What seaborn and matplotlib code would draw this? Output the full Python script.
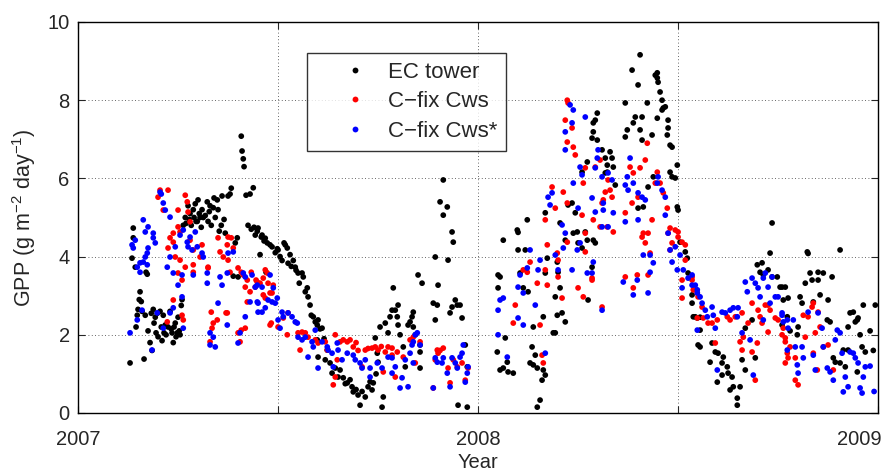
import matplotlib
matplotlib.use("Agg")
import matplotlib.pyplot as plt
import matplotlib.transforms as mtransforms
import seaborn as sns
import pandas as pd

# Daily GPP (g m-2 day-1), time given as decimal year
ec_tower = [
    (2007.130, 1.28), (2007.135, 3.96), (2007.138, 4.48), (2007.138, 4.73), (2007.143, 3.73),
    (2007.145, 2.20), (2007.148, 2.50), (2007.150, 2.65), (2007.153, 2.90), (2007.155, 3.10),
    (2007.158, 2.85), (2007.160, 2.60), (2007.165, 1.38), (2007.168, 2.50), (2007.170, 3.60),
    (2007.173, 3.55), (2007.175, 2.10), (2007.180, 1.80), (2007.183, 2.55), (2007.185, 1.60),
    (2007.188, 2.65), (2007.190, 2.30), (2007.193, 2.45), (2007.195, 2.05), (2007.198, 2.55),
    (2007.200, 1.95), (2007.205, 2.60), (2007.208, 2.20), (2007.210, 1.85), (2007.213, 2.50),
    (2007.215, 2.05), (2007.218, 2.25), (2007.220, 2.00), (2007.225, 2.20), (2007.230, 2.60),
    (2007.233, 2.15), (2007.235, 2.05), (2007.238, 1.80), (2007.240, 2.20), (2007.243, 2.30),
    (2007.245, 1.95), (2007.248, 2.05), (2007.250, 2.45), (2007.253, 2.10), (2007.255, 2.00),
    (2007.258, 2.75), (2007.260, 2.90), (2007.263, 4.80), (2007.268, 5.00), (2007.270, 4.85),
    (2007.275, 5.30), (2007.278, 4.95), (2007.280, 5.10), (2007.283, 4.80), (2007.288, 5.20),
    (2007.290, 5.00), (2007.293, 5.35), (2007.295, 4.90), (2007.298, 4.90), (2007.300, 5.45),
    (2007.303, 5.10), (2007.305, 5.00), (2007.308, 4.75), (2007.310, 5.20), (2007.313, 5.00),
    (2007.318, 5.05), (2007.323, 5.40), (2007.325, 4.90), (2007.328, 5.15), (2007.330, 5.30),
    (2007.333, 4.80), (2007.338, 5.25), (2007.340, 5.50), (2007.343, 5.00), (2007.348, 5.45),
    (2007.350, 5.20), (2007.353, 4.65), (2007.358, 4.80), (2007.360, 5.55), (2007.365, 4.95),
    (2007.368, 4.60), (2007.375, 5.55), (2007.380, 5.60), (2007.383, 5.75), (2007.388, 3.50),
    (2007.393, 4.35), (2007.398, 4.48), (2007.400, 3.48), (2007.408, 7.08), (2007.410, 6.70),
    (2007.413, 6.50), (2007.415, 6.30), (2007.420, 5.57), (2007.425, 4.80), (2007.430, 5.60),
    (2007.433, 4.70), (2007.438, 5.76), (2007.440, 4.75), (2007.443, 4.55), (2007.448, 4.65),
    (2007.450, 4.73), (2007.455, 4.05), (2007.458, 4.50), (2007.460, 4.55), (2007.465, 4.40),
    (2007.468, 4.47), (2007.470, 3.60), (2007.473, 4.35), (2007.480, 4.30), (2007.485, 4.25),
    (2007.493, 4.10), (2007.498, 4.20), (2007.500, 4.17), (2007.505, 4.00), (2007.510, 3.90),
    (2007.515, 4.35), (2007.518, 4.30), (2007.523, 4.22), (2007.525, 3.83), (2007.530, 4.05),
    (2007.533, 3.75), (2007.538, 3.90), (2007.543, 3.73), (2007.545, 3.65), (2007.550, 3.58),
    (2007.553, 3.32), (2007.560, 3.58), (2007.563, 3.48), (2007.568, 3.10), (2007.573, 3.20),
    (2007.575, 2.97), (2007.580, 2.76), (2007.583, 2.50), (2007.588, 2.46), (2007.593, 2.33),
    (2007.598, 2.25), (2007.598, 1.87), (2007.600, 2.38), (2007.600, 1.43), (2007.605, 2.15),
    (2007.610, 2.17), (2007.615, 1.90), (2007.618, 1.36), (2007.623, 1.61), (2007.630, 1.28),
    (2007.635, 1.02), (2007.643, 1.15), (2007.650, 0.92), (2007.655, 1.10), (2007.663, 0.90),
    (2007.668, 0.75), (2007.673, 0.77), (2007.680, 0.85), (2007.685, 0.67), (2007.688, 0.54),
    (2007.695, 0.60), (2007.700, 0.46), (2007.705, 0.20), (2007.710, 0.55), (2007.718, 0.41),
    (2007.725, 0.67), (2007.730, 0.80), (2007.735, 0.59), (2007.738, 0.77), (2007.743, 1.92),
    (2007.745, 1.00), (2007.748, 1.53), (2007.750, 1.30), (2007.755, 2.20), (2007.760, 0.15),
    (2007.763, 0.41), (2007.768, 2.30), (2007.775, 2.05), (2007.780, 2.46), (2007.785, 2.63),
    (2007.788, 3.20), (2007.793, 2.63), (2007.798, 2.46), (2007.800, 2.76), (2007.800, 2.25),
    (2007.805, 2.00), (2007.813, 1.69), (2007.818, 1.18), (2007.825, 2.25), (2007.830, 2.33),
    (2007.835, 2.46), (2007.838, 2.58), (2007.838, 2.20), (2007.843, 2.00), (2007.850, 3.53),
    (2007.855, 1.74), (2007.855, 1.56), (2007.855, 1.15), (2007.860, 3.32), (2007.888, 2.81),
    (2007.893, 2.38), (2007.893, 3.99), (2007.898, 2.76), (2007.900, 3.27), (2007.905, 5.40),
    (2007.913, 5.96), (2007.913, 5.06), (2007.923, 5.27), (2007.925, 3.91), (2007.930, 2.56),
    (2007.935, 4.63), (2007.935, 2.71), (2007.938, 4.37), (2007.943, 2.89), (2007.948, 2.76),
    (2007.950, 0.20), (2007.955, 2.76), (2007.960, 2.43), (2007.968, 1.74), (2007.973, 1.18),
    (2007.973, 0.15),
    (2008.048, 1.56), (2008.050, 3.53), (2008.050, 3.20), (2008.055, 3.48), (2008.055, 1.10),
    (2008.063, 4.42), (2008.063, 1.15), (2008.068, 1.92), (2008.073, 1.30), (2008.075, 1.05),
    (2008.088, 1.02), (2008.098, 4.68), (2008.100, 4.62), (2008.100, 4.17), (2008.105, 3.58),
    (2008.113, 3.20), (2008.118, 4.17), (2008.123, 4.94), (2008.125, 3.10), (2008.130, 1.28),
    (2008.135, 1.69), (2008.138, 2.20), (2008.138, 1.23), (2008.143, 1.48), (2008.148, 1.15),
    (2008.148, 0.15), (2008.155, 0.33), (2008.160, 0.84), (2008.163, 1.10), (2008.163, 2.46),
    (2008.168, 0.97), (2008.168, 3.58), (2008.168, 5.12), (2008.173, 3.96), (2008.188, 2.05),
    (2008.193, 2.05), (2008.193, 2.97), (2008.198, 2.50), (2008.198, 3.86), (2008.200, 3.60),
    (2008.205, 3.20), (2008.205, 4.86), (2008.210, 2.56), (2008.218, 2.33), (2008.218, 4.42),
    (2008.225, 5.32), (2008.235, 5.37), (2008.238, 4.60), (2008.243, 5.12), (2008.248, 4.63),
    (2008.250, 4.35), (2008.260, 4.22), (2008.260, 6.16), (2008.268, 4.63), (2008.273, 4.42),
    (2008.273, 6.42), (2008.275, 2.89), (2008.285, 3.73), (2008.285, 7.03), (2008.288, 7.19),
    (2008.288, 7.42), (2008.288, 4.42), (2008.293, 7.49), (2008.293, 4.35), (2008.298, 7.67),
    (2008.298, 6.98), (2008.310, 6.73), (2008.318, 6.52), (2008.318, 6.14), (2008.323, 6.34),
    (2008.323, 6.16), (2008.330, 6.68), (2008.335, 6.52), (2008.338, 6.29), (2008.343, 5.83),
    (2008.368, 7.93), (2008.373, 7.24), (2008.368, 7.06), (2008.385, 8.77), (2008.388, 7.42),
    (2008.393, 7.57), (2008.400, 8.39), (2008.400, 5.24), (2008.405, 9.16), (2008.405, 7.24),
    (2008.410, 7.57), (2008.410, 6.98), (2008.413, 5.27), (2008.423, 7.93), (2008.425, 5.78),
    (2008.435, 7.11), (2008.438, 6.04), (2008.443, 8.64), (2008.448, 8.57), (2008.448, 8.70),
    (2008.450, 8.46), (2008.448, 7.54), (2008.455, 8.21), (2008.460, 8.00), (2008.460, 7.75),
    (2008.463, 7.80), (2008.468, 7.83), (2008.473, 7.11), (2008.475, 7.49), (2008.475, 7.29),
    (2008.480, 6.85), (2008.480, 6.16), (2008.485, 6.80), (2008.485, 6.04), (2008.493, 6.01),
    (2008.498, 6.34), (2008.498, 5.27), (2008.500, 5.19), (2008.505, 4.37), (2008.518, 4.12),
    (2008.523, 3.96), (2008.525, 3.58), (2008.535, 2.81), (2008.535, 3.02), (2008.538, 2.46),
    (2008.543, 2.46), (2008.548, 2.43), (2008.550, 1.74), (2008.555, 2.12), (2008.555, 1.69),
    (2008.555, 2.45), (2008.580, 1.30), (2008.585, 1.79), (2008.593, 1.56), (2008.598, 0.79),
    (2008.600, 1.53), (2008.610, 1.28), (2008.610, 0.97), (2008.613, 1.43), (2008.623, 1.18),
    (2008.625, 1.02), (2008.630, 0.59), (2008.635, 0.92), (2008.638, 0.67), (2008.648, 0.38),
    (2008.648, 0.20), (2008.655, 0.67), (2008.660, 1.36), (2008.668, 1.10), (2008.668, 2.17),
    (2008.685, 2.38), (2008.693, 1.41), (2008.698, 3.79), (2008.705, 3.60), (2008.710, 3.84),
    (2008.713, 3.53), (2008.725, 3.66), (2008.730, 4.09), (2008.735, 3.48), (2008.735, 4.86),
    (2008.748, 3.48), (2008.755, 3.22), (2008.760, 3.22), (2008.760, 2.25), (2008.763, 2.89),
    (2008.768, 3.22), (2008.773, 2.46), (2008.775, 2.94), (2008.780, 2.10), (2008.798, 2.00),
    (2008.800, 2.20), (2008.805, 2.97), (2008.810, 2.81), (2008.818, 3.32), (2008.823, 4.12),
    (2008.825, 4.08), (2008.830, 3.58), (2008.835, 3.40), (2008.838, 2.84), (2008.850, 3.60),
    (2008.850, 3.40), (2008.855, 3.02), (2008.863, 3.58), (2008.873, 2.38), (2008.875, 2.89),
    (2008.880, 2.33), (2008.885, 3.48), (2008.888, 1.41), (2008.893, 1.30), (2008.905, 1.28),
    (2008.905, 4.17), (2008.913, 1.61), (2008.918, 1.18), (2008.925, 1.61), (2008.925, 2.20),
    (2008.930, 2.56), (2008.938, 2.58), (2008.943, 2.33), (2008.948, 2.38), (2008.948, 1.05),
    (2008.950, 2.43), (2008.955, 2.00), (2008.960, 1.69), (2008.963, 2.76), (2008.968, 1.56),
    (2008.980, 2.10), (2008.988, 1.60), (2008.993, 2.76),
]

cfix_cws = [
    (2007.200, 5.52), (2007.205, 5.70), (2007.213, 5.19), (2007.223, 2.33), (2007.225, 4.22),
    (2007.225, 5.70), (2007.230, 4.48), (2007.238, 4.37), (2007.238, 2.89), (2007.238, 4.60),
    (2007.243, 3.99), (2007.250, 3.58), (2007.250, 4.76), (2007.250, 5.19), (2007.255, 3.91),
    (2007.255, 4.63), (2007.260, 3.40), (2007.260, 2.50), (2007.263, 2.38), (2007.268, 3.73),
    (2007.268, 5.57), (2007.273, 5.40), (2007.275, 5.14), (2007.280, 4.89), (2007.280, 4.42),
    (2007.288, 4.17), (2007.288, 3.60), (2007.288, 3.79), (2007.305, 3.99), (2007.310, 4.30),
    (2007.325, 3.73), (2007.325, 3.71), (2007.330, 1.82), (2007.333, 2.58), (2007.335, 2.17),
    (2007.338, 2.30), (2007.348, 2.38), (2007.350, 4.48), (2007.355, 4.12), (2007.363, 3.99),
    (2007.370, 2.56), (2007.373, 4.30), (2007.373, 2.56), (2007.375, 4.50), (2007.375, 3.91),
    (2007.380, 3.60), (2007.383, 4.48), (2007.388, 4.22), (2007.400, 3.71), (2007.400, 2.05),
    (2007.405, 1.82), (2007.408, 2.12), (2007.408, 3.60), (2007.413, 3.53), (2007.418, 3.22),
    (2007.418, 2.17), (2007.423, 3.40), (2007.423, 2.84), (2007.430, 3.10), (2007.433, 3.60),
    (2007.443, 3.22), (2007.445, 3.40), (2007.448, 3.35), (2007.455, 3.32), (2007.463, 3.45),
    (2007.463, 3.02), (2007.468, 3.66), (2007.468, 2.94), (2007.473, 3.58), (2007.475, 3.32),
    (2007.480, 3.07), (2007.480, 2.25), (2007.483, 2.30), (2007.485, 3.07), (2007.488, 3.27),
    (2007.500, 2.20), (2007.513, 2.43), (2007.523, 2.00), (2007.525, 2.56), (2007.550, 2.05),
    (2007.555, 1.61), (2007.560, 2.07), (2007.568, 2.05), (2007.575, 1.94), (2007.593, 1.87),
    (2007.600, 1.79), (2007.618, 1.82), (2007.623, 1.61), (2007.638, 0.72), (2007.643, 2.00),
    (2007.643, 0.92), (2007.648, 1.36), (2007.655, 1.82), (2007.663, 1.87), (2007.673, 1.82),
    (2007.680, 1.87), (2007.688, 1.69), (2007.695, 1.80), (2007.700, 1.60), (2007.710, 1.18),
    (2007.718, 1.61), (2007.725, 1.65), (2007.735, 1.66), (2007.743, 1.69), (2007.750, 1.61),
    (2007.758, 1.70), (2007.763, 1.05), (2007.768, 1.56), (2007.775, 1.69), (2007.785, 1.48),
    (2007.785, 1.66), (2007.793, 0.92), (2007.798, 1.56), (2007.813, 1.43), (2007.830, 1.87),
    (2007.838, 1.94), (2007.843, 1.28), (2007.855, 1.82), (2007.888, 0.64), (2007.893, 1.36),
    (2007.898, 1.61), (2007.900, 1.53), (2007.905, 1.60), (2007.913, 1.66), (2007.925, 1.15),
    (2007.930, 0.77), (2007.938, 1.36), (2007.948, 1.18), (2007.960, 1.28), (2007.968, 0.84),
    (2007.975, 1.15),
    (2008.088, 2.30), (2008.093, 2.76), (2008.113, 3.66), (2008.123, 3.60), (2008.130, 3.86),
    (2008.148, 3.32), (2008.155, 2.25), (2008.160, 1.48), (2008.163, 1.28), (2008.168, 3.66),
    (2008.168, 4.94), (2008.173, 4.30), (2008.173, 3.27), (2008.185, 5.78), (2008.193, 5.24),
    (2008.198, 4.09), (2008.200, 3.91), (2008.200, 3.48), (2008.210, 2.94), (2008.213, 5.65),
    (2008.218, 7.49), (2008.223, 8.00), (2008.223, 5.37), (2008.223, 4.37), (2008.223, 6.93),
    (2008.225, 7.93), (2008.235, 7.29), (2008.238, 6.80), (2008.243, 6.60), (2008.250, 3.20),
    (2008.260, 5.06), (2008.263, 5.88), (2008.263, 2.97), (2008.268, 6.27), (2008.268, 4.60),
    (2008.268, 4.12), (2008.285, 3.45), (2008.285, 3.40), (2008.288, 4.94), (2008.293, 6.29),
    (2008.305, 6.47), (2008.305, 4.76), (2008.310, 5.37), (2008.310, 2.71), (2008.313, 5.45),
    (2008.318, 5.65), (2008.323, 4.76), (2008.325, 5.96), (2008.330, 5.70), (2008.335, 5.52),
    (2008.338, 4.63), (2008.368, 5.12), (2008.368, 3.48), (2008.380, 6.29), (2008.385, 5.37),
    (2008.388, 6.14), (2008.388, 3.20), (2008.398, 3.53), (2008.400, 5.52), (2008.405, 6.27),
    (2008.410, 4.50), (2008.413, 4.60), (2008.418, 6.47), (2008.418, 4.35), (2008.423, 6.90),
    (2008.425, 4.60), (2008.425, 3.53), (2008.430, 4.09), (2008.435, 4.94), (2008.443, 5.88),
    (2008.448, 6.16), (2008.455, 5.88), (2008.463, 5.63), (2008.473, 5.24), (2008.475, 4.60),
    (2008.480, 4.73), (2008.480, 4.17), (2008.485, 4.35), (2008.493, 4.68), (2008.500, 4.63),
    (2008.500, 4.50), (2008.510, 4.37), (2008.510, 3.40), (2008.510, 2.94), (2008.518, 4.30),
    (2008.518, 3.91), (2008.535, 3.48), (2008.535, 3.40), (2008.538, 3.15), (2008.548, 3.07),
    (2008.548, 2.43), (2008.550, 2.97), (2008.560, 2.71), (2008.563, 2.43), (2008.575, 2.30),
    (2008.585, 2.30), (2008.593, 1.79), (2008.598, 2.38), (2008.623, 2.46), (2008.630, 2.38),
    (2008.643, 2.46), (2008.655, 1.82), (2008.660, 2.56), (2008.660, 1.61), (2008.663, 1.94),
    (2008.675, 2.30), (2008.685, 1.56), (2008.685, 2.81), (2008.693, 0.84), (2008.698, 1.79),
    (2008.700, 2.63), (2008.705, 2.46), (2008.710, 2.30), (2008.718, 2.76), (2008.725, 2.76),
    (2008.725, 2.07), (2008.730, 2.63), (2008.743, 2.43), (2008.750, 2.38), (2008.760, 2.00),
    (2008.763, 2.17), (2008.768, 1.92), (2008.768, 1.28), (2008.768, 1.82), (2008.773, 1.53),
    (2008.775, 1.41), (2008.780, 1.69), (2008.793, 1.41), (2008.793, 0.84), (2008.800, 0.72),
    (2008.813, 2.50), (2008.818, 1.94), (2008.825, 2.46), (2008.835, 2.71), (2008.838, 2.81),
    (2008.838, 1.53), (2008.843, 2.05), (2008.848, 1.10), (2008.850, 2.58), (2008.855, 2.20),
    (2008.863, 1.69), (2008.875, 1.74), (2008.888, 1.10),
]

cfix_cws_star = [
    (2007.130, 2.05), (2007.135, 4.30), (2007.138, 4.22), (2007.143, 4.42), (2007.148, 3.73),
    (2007.148, 2.38), (2007.155, 3.84), (2007.155, 3.60), (2007.160, 2.63), (2007.163, 3.86),
    (2007.163, 4.94), (2007.168, 3.99), (2007.168, 4.63), (2007.173, 4.09), (2007.173, 3.79),
    (2007.175, 4.22), (2007.175, 4.76), (2007.185, 1.61), (2007.188, 4.60), (2007.188, 4.48),
    (2007.193, 4.35), (2007.198, 2.56), (2007.205, 5.65), (2007.208, 5.60), (2007.213, 5.37),
    (2007.213, 2.17), (2007.218, 5.19), (2007.223, 3.73), (2007.230, 5.01), (2007.230, 3.99),
    (2007.230, 2.56), (2007.238, 3.58), (2007.238, 2.69), (2007.243, 4.25), (2007.250, 3.27),
    (2007.255, 4.55), (2007.260, 3.53), (2007.260, 2.97), (2007.263, 4.68), (2007.263, 2.17),
    (2007.273, 4.37), (2007.275, 4.25), (2007.280, 4.50), (2007.285, 4.17), (2007.288, 3.53),
    (2007.293, 4.63), (2007.298, 4.25), (2007.310, 4.09), (2007.313, 3.99), (2007.323, 3.58),
    (2007.323, 3.32), (2007.330, 2.05), (2007.330, 1.74), (2007.338, 1.94), (2007.343, 1.69),
    (2007.350, 2.81), (2007.355, 3.48), (2007.360, 3.27), (2007.373, 3.58), (2007.373, 2.25),
    (2007.375, 4.09), (2007.388, 4.12), (2007.400, 1.79), (2007.405, 2.05), (2007.413, 3.58),
    (2007.418, 3.48), (2007.418, 2.46), (2007.430, 2.84), (2007.435, 3.53), (2007.443, 3.22),
    (2007.448, 3.27), (2007.448, 2.84), (2007.450, 2.81), (2007.450, 2.58), (2007.460, 3.22),
    (2007.460, 2.58), (2007.468, 2.69), (2007.475, 2.89), (2007.480, 3.53), (2007.485, 2.84),
    (2007.488, 3.20), (2007.493, 2.81), (2007.498, 2.94), (2007.500, 2.38), (2007.505, 2.17),
    (2007.510, 2.58), (2007.513, 2.46), (2007.525, 2.56), (2007.535, 2.46), (2007.543, 2.33),
    (2007.548, 2.30), (2007.550, 1.94), (2007.560, 1.87), (2007.568, 1.94), (2007.575, 1.43),
    (2007.585, 1.82), (2007.588, 1.69), (2007.593, 2.12), (2007.600, 1.15), (2007.610, 1.82),
    (2007.623, 1.69), (2007.625, 1.61), (2007.635, 1.53), (2007.638, 1.18), (2007.648, 1.79),
    (2007.650, 1.61), (2007.660, 1.36), (2007.673, 1.53), (2007.688, 1.48), (2007.693, 1.36),
    (2007.705, 1.28), (2007.710, 1.15), (2007.718, 1.36), (2007.730, 1.15), (2007.730, 0.92),
    (2007.748, 1.28), (2007.760, 1.15), (2007.775, 1.43), (2007.785, 1.41), (2007.785, 1.02),
    (2007.793, 1.18), (2007.805, 0.64), (2007.810, 0.90), (2007.818, 1.36), (2007.825, 0.67),
    (2007.830, 1.53), (2007.835, 1.74), (2007.838, 1.82), (2007.838, 1.28), (2007.843, 2.00),
    (2007.848, 2.05), (2007.855, 1.74), (2007.888, 0.64), (2007.893, 1.41), (2007.898, 1.30),
    (2007.910, 1.28), (2007.913, 1.41), (2007.923, 1.02), (2007.930, 0.67), (2007.935, 1.41),
    (2007.943, 1.28), (2007.948, 1.15), (2007.955, 1.43), (2007.960, 1.53), (2007.963, 1.74),
    (2007.968, 0.79), (2007.973, 1.02), (2007.975, 1.18),
    (2008.050, 2.00), (2008.050, 2.63), (2008.055, 2.89), (2008.063, 2.94), (2008.073, 1.43),
    (2008.100, 3.22), (2008.100, 2.43), (2008.105, 3.53), (2008.113, 3.07), (2008.113, 2.25),
    (2008.123, 3.71), (2008.130, 4.17), (2008.143, 2.76), (2008.150, 3.66), (2008.155, 3.91),
    (2008.168, 1.53), (2008.175, 5.52), (2008.180, 5.32), (2008.185, 5.63), (2008.193, 4.04),
    (2008.200, 3.66), (2008.210, 4.81), (2008.213, 4.22), (2008.218, 4.60), (2008.218, 7.19),
    (2008.218, 6.73), (2008.230, 7.88), (2008.235, 7.42), (2008.235, 3.66), (2008.238, 7.75),
    (2008.238, 5.88), (2008.248, 4.17), (2008.250, 5.24), (2008.255, 6.29), (2008.255, 4.35),
    (2008.260, 6.09), (2008.268, 7.57), (2008.273, 3.58), (2008.285, 5.50), (2008.285, 3.58),
    (2008.288, 3.86), (2008.293, 5.14), (2008.293, 6.27), (2008.298, 6.52), (2008.300, 6.73),
    (2008.310, 6.04), (2008.310, 2.63), (2008.313, 5.37), (2008.313, 5.19), (2008.310, 4.76),
    (2008.325, 6.14), (2008.325, 4.76), (2008.335, 5.96), (2008.338, 5.12), (2008.363, 3.35),
    (2008.368, 5.83), (2008.368, 4.89), (2008.373, 6.04), (2008.375, 5.70), (2008.380, 6.52),
    (2008.388, 5.88), (2008.388, 3.02), (2008.398, 3.40), (2008.400, 5.63), (2008.400, 4.94),
    (2008.410, 5.52), (2008.413, 4.04), (2008.418, 5.45), (2008.425, 3.07), (2008.430, 4.04),
    (2008.430, 3.60), (2008.438, 3.84), (2008.448, 5.88), (2008.450, 6.04), (2008.460, 5.70),
    (2008.468, 5.52), (2008.468, 5.06), (2008.475, 4.60), (2008.480, 4.17), (2008.485, 3.86),
    (2008.493, 4.25), (2008.498, 3.66), (2008.505, 4.04), (2008.513, 3.66), (2008.510, 3.20),
    (2008.525, 3.45), (2008.535, 3.27), (2008.535, 3.53), (2008.543, 3.27), (2008.548, 3.15),
    (2008.548, 3.07), (2008.548, 2.12), (2008.555, 2.97), (2008.560, 2.81), (2008.568, 2.63),
    (2008.573, 2.46), (2008.585, 2.71), (2008.588, 2.50), (2008.593, 2.17), (2008.598, 1.10),
    (2008.610, 2.58), (2008.618, 2.56), (2008.630, 2.63), (2008.638, 2.69), (2008.648, 2.46),
    (2008.650, 2.69), (2008.660, 2.05), (2008.668, 3.35), (2008.673, 3.10), (2008.680, 1.87),
    (2008.685, 3.45), (2008.688, 0.97), (2008.693, 3.32), (2008.700, 3.20), (2008.705, 2.97),
    (2008.713, 3.45), (2008.713, 2.38), (2008.718, 3.58), (2008.725, 3.22), (2008.730, 2.81),
    (2008.735, 3.48), (2008.743, 2.97), (2008.750, 2.97), (2008.760, 2.50), (2008.760, 2.56),
    (2008.763, 2.33), (2008.773, 1.61), (2008.773, 2.38), (2008.775, 2.17), (2008.788, 2.38),
    (2008.793, 1.69), (2008.798, 1.23), (2008.800, 1.02), (2008.810, 1.69), (2008.813, 1.41),
    (2008.825, 2.58), (2008.838, 1.48), (2008.843, 1.10), (2008.850, 2.56), (2008.860, 2.17),
    (2008.863, 1.69), (2008.873, 1.15), (2008.880, 1.05), (2008.888, 0.84), (2008.893, 1.87),
    (2008.898, 2.12), (2008.905, 2.05), (2008.910, 1.53), (2008.913, 0.54), (2008.918, 0.92),
    (2008.925, 0.67), (2008.930, 1.56), (2008.938, 1.53), (2008.943, 1.41), (2008.950, 1.28),
    (2008.955, 0.64), (2008.960, 0.51), (2008.963, 0.92), (2008.968, 1.18), (2008.980, 1.20),
    (2008.990, 0.55),
]

series_labels = ["EC tower", "C\u2212fix Cws", "C\u2212fix Cws*"]
series_colors = ["#000000", "#ff0000", "#0000ff"]
x_ticks = [2007.0, 2007.5, 2008.0, 2008.5, 2009.0]
x_ticklabels = ["2007", "", "2008", "", "2009"]
y_ticks = [0, 2, 4, 6, 8, 10]

sns.set_style("ticks")
plt.rcParams["font.family"] = ["Liberation Sans", "DejaVu Sans"]
plt.rcParams["mathtext.fontset"] = "custom"
plt.rcParams["mathtext.rm"] = "Liberation Sans"
plt.rcParams["mathtext.it"] = "Liberation Sans"

frames = []
for label, pts in zip(series_labels, [ec_tower, cfix_cws, cfix_cws_star]):
    df = pd.DataFrame(pts, columns=["year", "gpp"])
    df["series"] = label
    frames.append(df)
data = pd.concat(frames, ignore_index=True)

fig = plt.figure(figsize=(8.95, 4.74), dpi=100)
ax = fig.add_axes([0.0872, 0.1287, 0.8939, 0.8249])

sns.scatterplot(data=data, x="year", y="gpp", hue="series",
                hue_order=series_labels, palette=dict(zip(series_labels, series_colors)),
                s=17, linewidth=0, edgecolor="none", ax=ax, legend=False, zorder=3)

ax.set_xlim(2007, 2009)
ax.set_ylim(0, 10)
ax.set_xticks(x_ticks)
ax.set_xticklabels(x_ticklabels)
ax.set_yticks(y_ticks)
ax.grid(True, linestyle=(0, (1, 3)), color="black", linewidth=0.6, alpha=0.8)
ax.tick_params(direction="in", length=5, width=0.8, top=True, right=True,
               labelsize=14.5)
ax.tick_params(axis="x", pad=12)
ax.tick_params(axis="y", pad=6)
for sp in ax.spines.values():
    sp.set_visible(True)
    sp.set_linewidth(1.0)
    sp.set_color("black")

# pull the last year label back inside the figure edge
last = ax.get_xticklabels()[-1]
last.set_transform(last.get_transform() +
                   mtransforms.ScaledTranslation(-19 / 100, 0, fig.dpi_scale_trans))

ax.set_xlabel("Year", fontsize=14.5, labelpad=3)
ax.set_ylabel("GPP (g m$^{-2}$ day$^{-1}$)", fontsize=15.5, labelpad=7)

handles = [plt.Line2D([], [], linestyle="none", marker="o", markersize=4.2,
                      markerfacecolor=c, markeredgecolor="none")
           for c in series_colors]
leg = ax.legend(handles, series_labels, loc="upper left",
                bbox_to_anchor=(0.286, 0.921), frameon=True, fancybox=False,
                edgecolor="black", fontsize=16, handlelength=3.5,
                handletextpad=-0.25, borderpad=0.4, labelspacing=0.38,
                borderaxespad=0, numpoints=1)
leg.get_frame().set_linewidth(1.0)
leg.set_zorder(5)

fig.savefig("out.png", dpi=100)
